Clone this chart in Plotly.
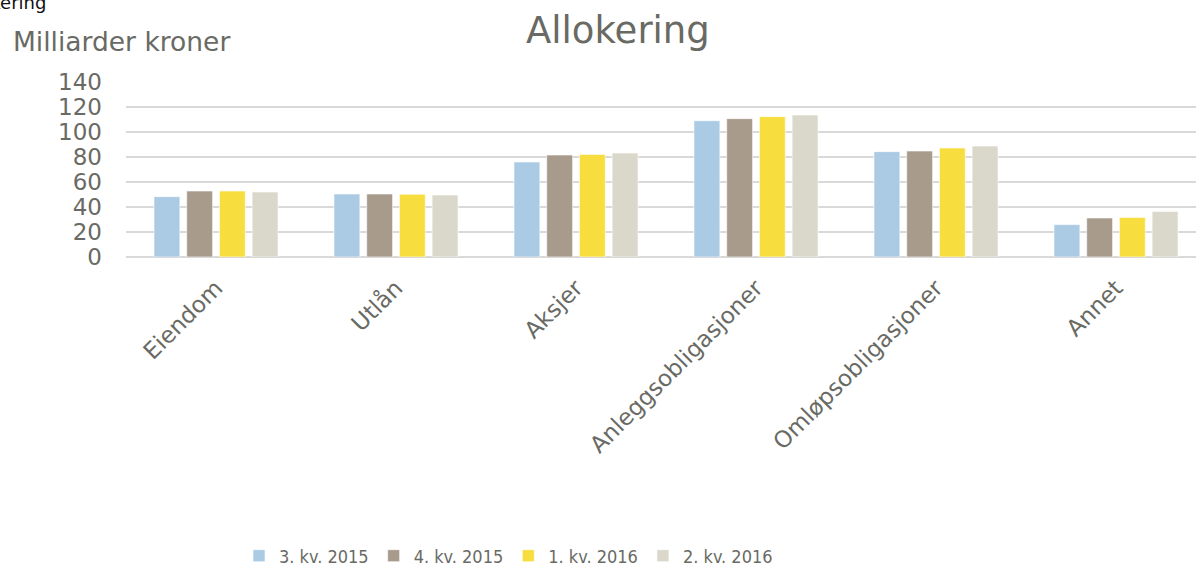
import plotly.graph_objects as go

categories = ["Eiendom", "Utlån", "Aksjer", "Anleggsobligasjoner", "Omløpsobligasjoner", "Annet"]
series_names = ["3. kv. 2015", "4. kv. 2015", "1. kv. 2016", "2. kv. 2016"]
q3_2015 = [48.3, 50.4, 76.0, 109.0, 84.3, 25.9]
q4_2015 = [52.8, 50.4, 81.6, 110.7, 84.8, 31.2]
q1_2016 = [52.8, 50.2, 82.1, 112.3, 87.2, 31.7]
q2_2016 = [52.0, 49.6, 83.2, 113.6, 88.8, 36.5]
series_values = [q3_2015, q4_2015, q1_2016, q2_2016]
colors = ["#ABCAE4", "#A89B8C", "#F7DE3E", "#DAD7CB"]
y_ticks = [0, 20, 40, 60, 80, 100, 120, 140]

W, H = 1196, 570
L, R, T, B = 126, 0, 82, 313
FONT = "DejaVu Sans, Verdana, sans-serif"
GRAY = "#696A64"

fig = go.Figure()
for name, vals, col in zip(series_names, series_values, colors):
    fig.add_trace(go.Bar(
        x=categories, y=vals, name=name,
        marker=dict(color=col, line=dict(color="rgba(255,255,255,0.6)", width=1)),
    ))

pw = W - L - R
ph = H - T - B
fig.update_layout(
    width=W, height=H,
    margin=dict(l=L, r=R, t=T, b=B, pad=0, autoexpand=False),
    paper_bgcolor="white", plot_bgcolor="white",
    barmode="group", bargap=0.273, bargroupgap=0.208,
    font=dict(family=FONT, color=GRAY, size=22),
    showlegend=True,
    legend=dict(
        orientation="h", x=(253 - 14 - L) / pw, xanchor="left",
        y=(257 - 556) / ph, yanchor="middle",
        font=dict(family="DejaVu Sans Condensed, Liberation Sans Narrow, Roboto, sans-serif", size=18, color=GRAY),
        traceorder="normal",
    ),
    xaxis=dict(
        range=[-0.5, 5.5 - 10 / 180], tickangle=-45, showgrid=False, automargin=False,
        showline=False, ticks="", tickfont=dict(size=23, color=GRAY), ticklabelstandoff=12,
    ),
    yaxis=dict(
        range=[0, 140], tickvals=y_ticks, showgrid=True, gridcolor="#D9D9D9", gridwidth=2,
        zeroline=True, zerolinecolor="#D9D9D9", zerolinewidth=2, automargin=False,
        ticks="", tickfont=dict(size=23, color=GRAY), ticklabelstandoff=23,
    ),
    annotations=[
        dict(text="Allokering", xref="paper", yref="paper", x=(618 - L) / pw, y=(257 - 30) / ph,
             xanchor="center", yanchor="middle", showarrow=False,
             font=dict(size=37, color=GRAY, family=FONT)),
        dict(text="Milliarder kroner", xref="paper", yref="paper", x=(11 - L) / pw, y=(257 - 42) / ph,
             xanchor="left", yanchor="middle", showarrow=False,
             font=dict(size=26.5, color=GRAY, family=FONT)),
        dict(text="Allokering", xref="paper", yref="paper", x=(48 - L) / pw, y=(257 - 2) / ph,
             xanchor="right", yanchor="middle", showarrow=False,
             font=dict(size=18, color="#111111", family=FONT)),
    ],
)

fig.write_html(
    "out.html",
    config={"displayModeBar": False},
    post_script="document.body.style.margin='0';document.body.style.overflow='hidden';",
)
